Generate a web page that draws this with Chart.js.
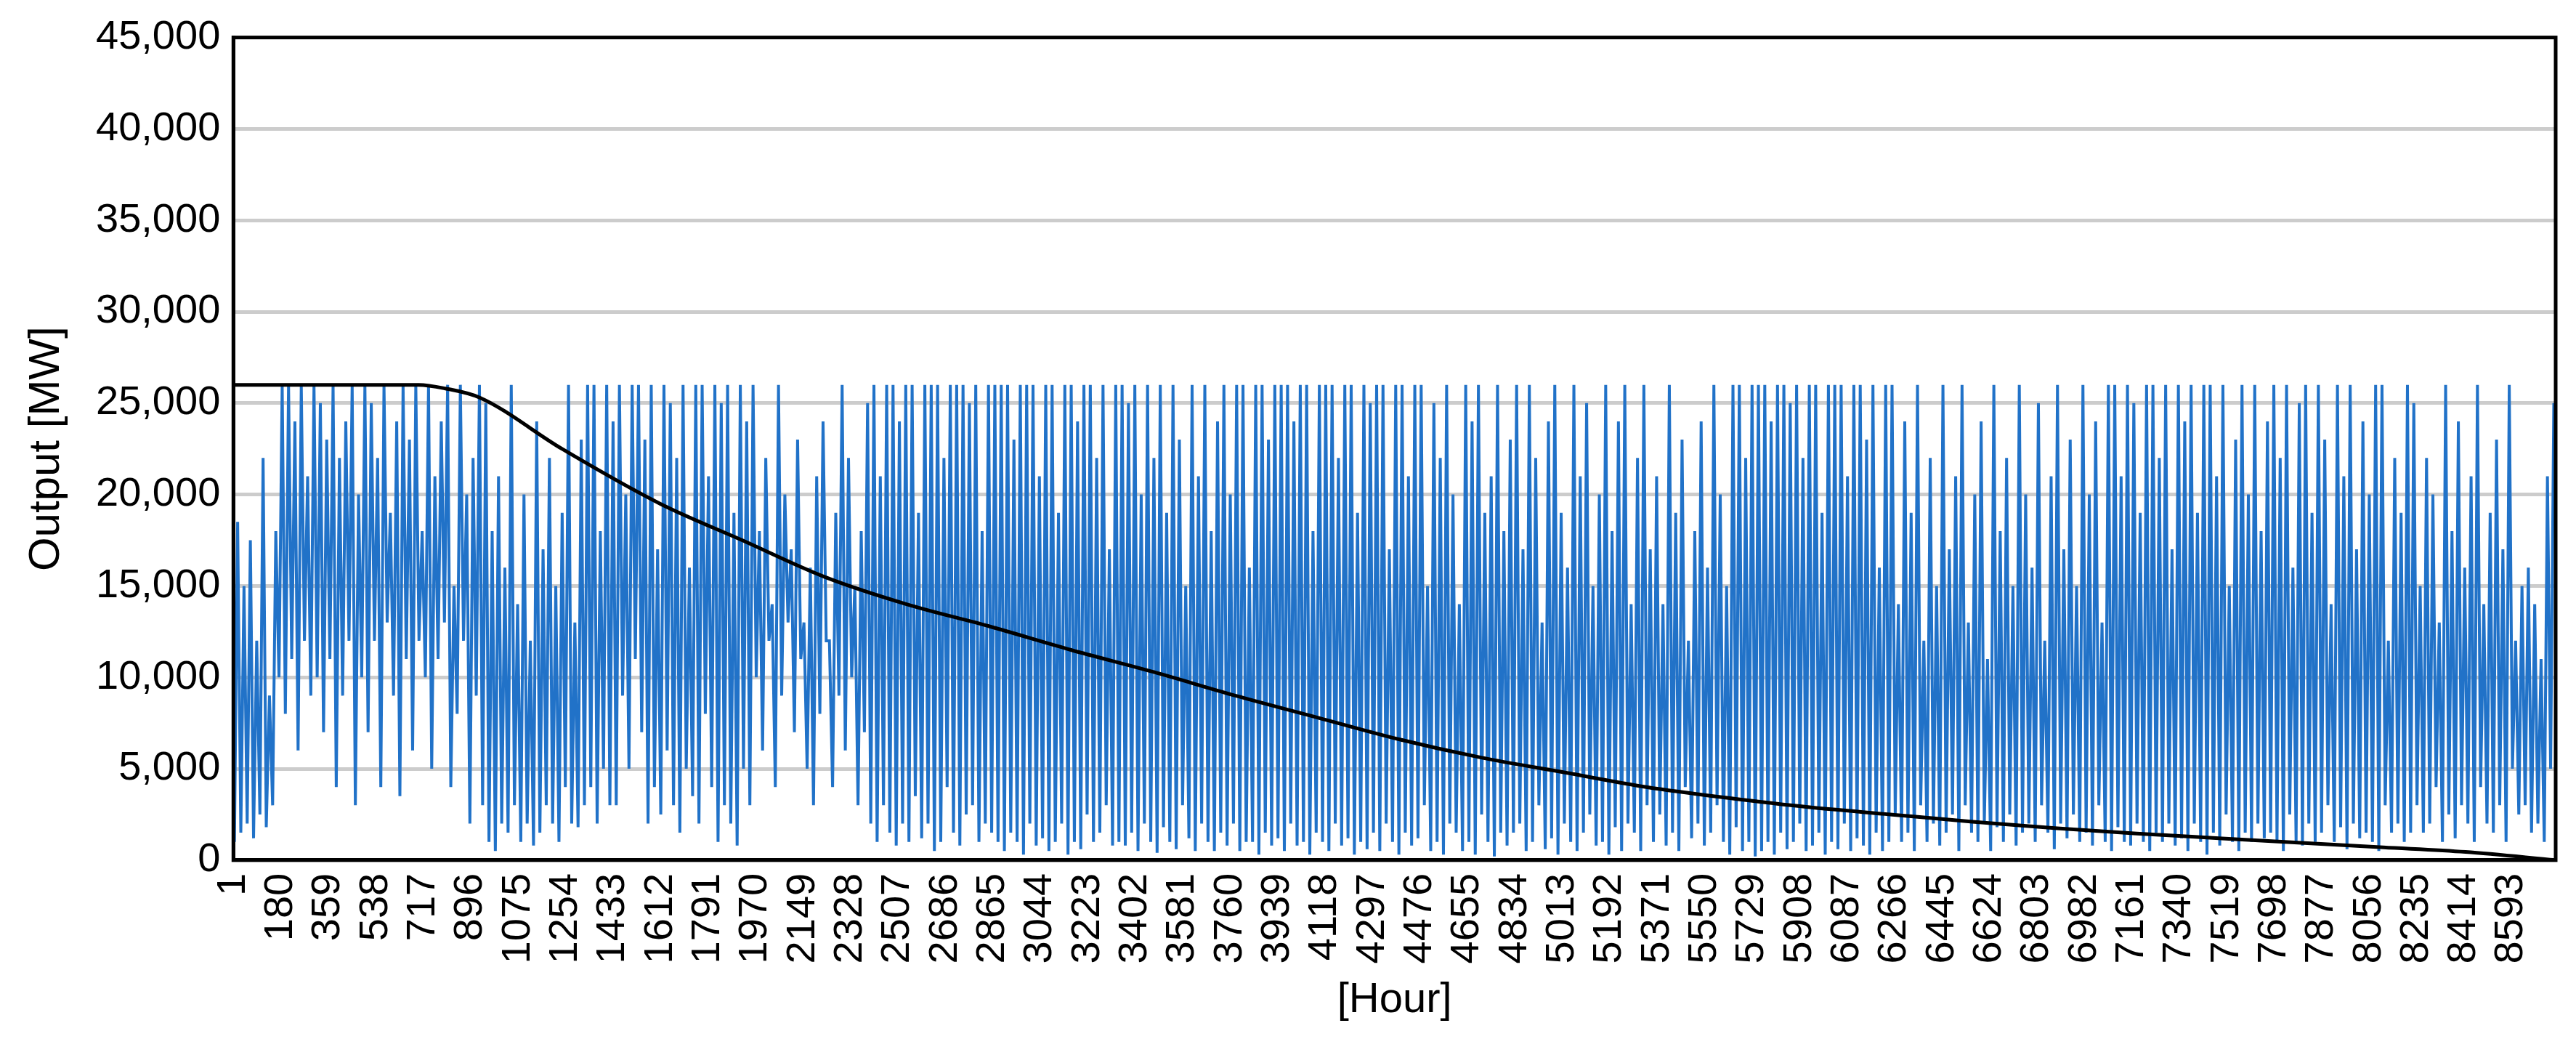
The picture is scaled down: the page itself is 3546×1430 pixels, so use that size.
<!DOCTYPE html>
<html>
<head>
<meta charset="utf-8">
<script src="https://cdn.jsdelivr.net/npm/chart.js@4.4.1/dist/chart.umd.min.js"></script>
<style>
  html, body { margin: 0; padding: 0; background: #fff; }
  #wrap { width: 3546px; height: 1430px; }
</style>
</head>
<body>
<div id="wrap"><canvas id="canvas"></canvas></div>
<script>
// daily maximum / minimum hourly output, thousand MW
var dayMax = [
  18.5,15,17.5,12,22,9,18,26,26,24,26,21,26,25,23,26,22,24,26,20,
  26,25,22,26,19,24,26,23,26,18,26,21,24,26,15,26,20,22,26,25,
  18,21,16,26,14,20,12,24,17,22,15,19,26,13,23,26,26,18,26,24,
  26,20,26,26,23,26,17,26,25,22,26,16,26,26,21,26,25,26,19,26,
  24,26,18,22,14,26,20,17,23,13,16,21,24,12,19,26,22,15,18,25,
  26,21,26,26,24,26,26,19,26,26,26,22,26,26,26,25,26,18,26,26,
  26,26,23,26,26,26,21,26,26,19,26,26,24,26,26,22,26,17,26,26,
  25,26,20,26,22,26,19,26,23,15,26,21,26,18,24,26,20,26,26,16,
  26,26,23,26,26,26,24,26,26,18,26,26,26,22,26,26,19,26,25,26,
  26,17,26,26,21,26,26,15,25,22,26,20,14,26,24,26,19,21,26,18,
  23,26,17,26,22,13,24,26,19,16,26,21,25,15,20,26,18,24,26,14,
  22,26,17,21,14,26,19,23,12,18,24,16,26,20,15,26,26,22,26,26,
  26,24,26,26,25,26,22,26,26,19,26,26,26,21,26,26,23,26,16,26,
  26,14,24,19,26,12,22,15,26,17,21,26,13,20,24,11,26,18,22,15,
  26,20,16,25,12,21,26,17,23,15,26,20,24,13,26,26,21,26,25,19,
  26,26,22,26,17,26,24,26,19,26,26,21,26,15,23,26,20,26,18,24,
  26,22,26,16,25,26,19,26,23,14,26,21,26,17,24,20,26,26,12,22,
  19,26,25,15,22,20,13,26,18,24,16,21,26,14,19,23,17,26,12,15,
  16,14,11,21,25
];
var dayMin = [
  1,1.5,2,1.2,2.5,1.8,3,10,8,11,6,12,9,10,7,11,4,9,12,3,
  10,7,12,4,13,9,3.5,11,6,12,10,5,11,13,4,8,12,2,9,3,
  1,0.5,2,1.5,3,1,2,0.8,1.5,3,2,1,4,2,1.8,3,4,2,5,3,
  3,9,5,11,7,2,4,2.5,6,3,1.5,5,3.5,2,8,4,1,3,2,0.8,
  5,3,10,6,12,4,9,13,7,11,5,3,8,12,4,9,6,10,3,7,
  2,1,3,1.5,0.8,2,1,3.5,1.2,2,0.5,1,4,1.5,0.8,2.5,3,1,2,1.5,
  1,0.5,1.5,1,0.3,2,0.8,1.2,0.5,1,2,0.3,1,0.6,2.5,1,1.5,3,0.8,1,
  0.8,1.5,0.5,2,1,0.4,1.8,1,0.6,3,1.2,0.5,2,1,0.5,1.5,0.8,2,0.5,1,
  1,0.3,1.5,0.8,1.2,0.5,2,0.8,1,0.3,1.5,1,0.5,2,0.8,1.2,0.3,1,0.6,1.5,
  0.5,2,1,0.3,1.5,0.8,1.2,3,0.5,1,0.3,2,1.5,0.5,1,0.3,2.5,1,0.2,1.5,
  0.8,1.5,2,0.5,1,3,0.6,1.2,0.3,2,1,0.5,1.5,2.5,0.8,1,0.3,1.8,0.5,2,
  1.5,0.5,3,1,2.5,0.8,1.5,0.5,4,1.2,2,0.8,1.5,3,1,0.3,1.8,0.5,1,0.2,
  0.5,1,0.3,1.5,0.6,1,2,0.5,0.8,1.5,0.3,1,0.6,2,0.5,1.2,0.8,0.3,1.5,0.5,
  1,2.5,1,1.5,0.5,3,1,2,0.8,1.5,2.5,0.5,3,1.5,1,2,0.5,1.8,1,2.5,
  0.8,1.5,2,1,3,1.5,0.6,2,1.2,2.5,1,1.5,0.8,3,1,0.5,1.8,1,0.8,2,
  1,0.5,1.5,1,2,0.8,1.2,0.5,2,1,0.3,1.5,0.8,2.5,1,0.5,1.5,1,2,1.2,
  1.5,1,0.5,2.5,1,0.8,2,1,1.5,3,1,1.8,0.6,2,1.2,1.5,1,0.5,3,1.5,
  2,1,1.5,3,1.5,2,4,1,2.5,1.2,3,2,1,4,2,1.5,3,1,5,2.5,
  3,1.5,2,1,5
];

// sorted (duration) curve, hour -> MW
var durHours = [1,700,800,930,1240,1610,1920,2230,2540,2850,3160,3470,3780,4090,4400,4710,5020,5330,5640,5940,6250,6560,6870,7180,7490,7800,8110,8420,8760];
var durValues = [26000,26000,25800,25300,22500,19500,17500,15500,14000,12800,11500,10300,9000,7800,6600,5600,4800,4000,3400,2900,2500,2100,1750,1450,1200,950,700,450,0];

var hourTicks = [];
for (var h = 1; h <= 8593; h += 179) hourTicks.push(h);

var hourly = [];
for (var d = 0; d < dayMax.length; d++) {
  hourly.push({x: d * 24 + 5, y: dayMin[d] * 1000});
  hourly.push({x: d * 24 + 17, y: dayMax[d] * 1000});
}
var duration = durHours.map(function (h, i) { return {x: h, y: durValues[i]}; });

var frame = {
  id: 'frame',
  afterDraw: function (chart) {
    var a = chart.chartArea, c = chart.ctx;
    c.save();
    c.strokeStyle = '#000';
    c.lineWidth = 5;
    c.strokeRect(a.left, a.top, a.right - a.left, a.bottom - a.top);
    c.restore();
  }
};

var font = "'Liberation Sans', Arial, sans-serif";
var config = {
  type: 'line',
  data: {
    datasets: [{
      label: 'Output',
      data: hourly,
      borderColor: '#2172c8',
      borderWidth: 4,
      pointRadius: 0,
      tension: 0,
      order: 2
    }, {
      label: 'Duration',
      data: duration,
      borderColor: '#000',
      borderWidth: 5,
      pointRadius: 0,
      cubicInterpolationMode: 'monotone',
      order: 1
    }]
  },
  options: {
    responsive: true,
    maintainAspectRatio: false,
    animation: false,
    devicePixelRatio: 1,
    layout: { padding: { left: 24, right: 28, top: 40, bottom: 14 } },
    plugins: { legend: { display: false }, tooltip: { enabled: false } },
    scales: {
      x: {
        type: 'linear',
        min: 1,
        max: 8760,
        afterBuildTicks: function (axis) {
          axis.ticks = hourTicks.map(function (v) { return {value: v}; });
        },
        ticks: {
          autoSkip: false,
          minRotation: 90,
          maxRotation: 90,
          color: '#000',
          font: { family: font, size: 56 },
          padding: 10,
          callback: function (v) { return String(v); }
        },
        grid: { display: false },
        border: { color: '#000', width: 5 },
        title: { display: true, text: '[Hour]', color: '#000', font: { family: font, size: 58 }, padding: { top: 6 } }
      },
      y: {
        min: 0,
        max: 45000,
        ticks: {
          stepSize: 5000,
          color: '#000',
          font: { family: font, size: 56 },
          padding: 18,
          callback: function (v) { return v.toLocaleString('en-US'); }
        },
        grid: { color: '#cccccc', lineWidth: 5, drawTicks: false },
        border: { color: '#000', width: 5 },
        title: { display: true, text: 'Output [MW]', color: '#000', font: { family: font, size: 60 }, padding: { bottom: 14 } }
      }
    }
  },
  plugins: [frame]
};

var chart;
window.onload = function main() {
  var ctx = document.getElementById('canvas').getContext('2d');
  chart = new Chart(ctx, config);
};
</script>
</body>
</html>
